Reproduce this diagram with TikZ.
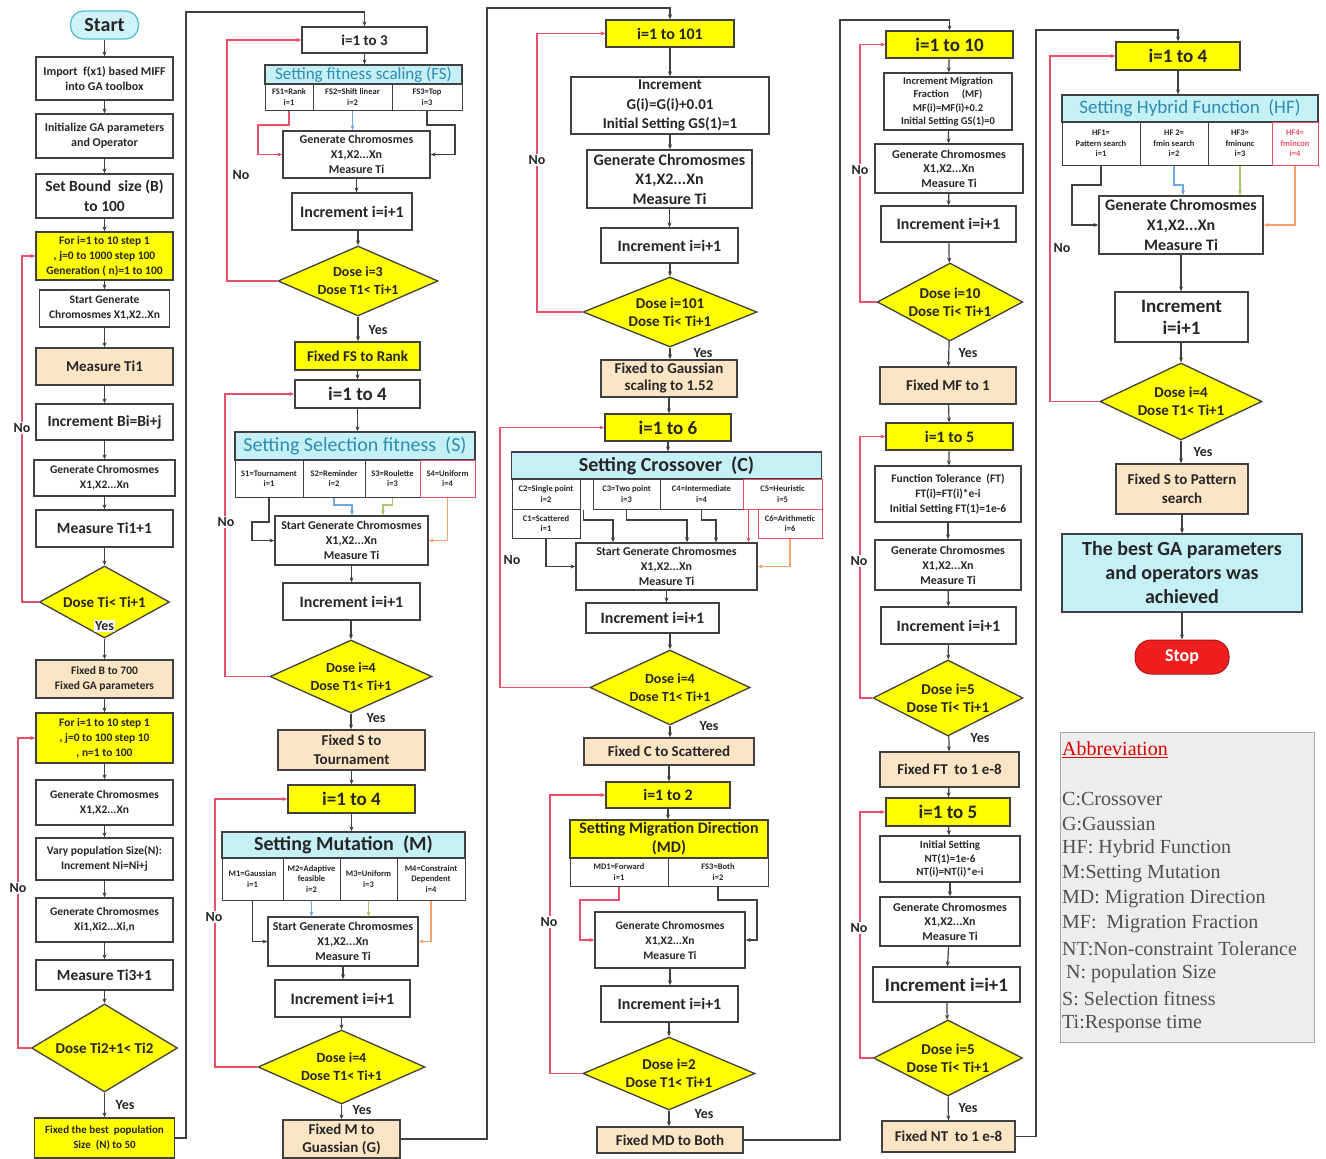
\documentclass[tikz,border=0pt]{standalone}
\usepackage{fontspec}
\setmainfont{Carlito}
\newfontfamily\abbrfont{Liberation Serif}
\usetikzlibrary{shapes.geometric,arrows.meta}
\newcommand\fs[2]{\fontsize{#1}{#2}\selectfont}
\newcommand\vdown[2]{\draw[arr] (#1.south) -- (#1.south |- #2.north);}
\newcommand\vinto[2]{\draw[arr] (#2.north |- #1.south) -- (#2.north);}
\definecolor{edge}{HTML}{404040}
\definecolor{ink}{HTML}{262626}
\definecolor{yel}{HTML}{FFFF00}
\definecolor{tanf}{HTML}{FBE5C4}
\definecolor{cya}{HTML}{C5F0F6}
\definecolor{hdr}{HTML}{2E8DB3}
\definecolor{loopred}{HTML}{E8506A}
\definecolor{lblue}{HTML}{6FA8DC}
\definecolor{lgreen}{HTML}{A8C66C}
\definecolor{lorange}{HTML}{F4A46A}
\definecolor{startc}{HTML}{D0F3FA}
\definecolor{startedge}{HTML}{5BBCD6}
\definecolor{stopc}{HTML}{F01E1E}
\definecolor{abbrbg}{HTML}{EDEDED}
\definecolor{abbrtxt}{HTML}{505050}
\tikzset{
  box/.style={draw=edge, line width=1.3pt, fill=white, align=center, inner sep=1pt, text=ink, font=\bfseries},
  ybox/.style={box, fill=yel},
  tbox/.style={box, fill=tanf},
  cbox/.style={box, fill=cya},
  cell/.style={box, line width=1pt, font=\bfseries\fs{8.5}{10.5}},
  rcell/.style={cell, draw=loopred},
  dia/.style={diamond, draw=edge, line width=1.3pt, fill=yel, align=center, inner sep=0pt, aspect=2.2, text=ink, font=\bfseries},
  sz/.style 2 args={minimum width=#1pt, minimum height=#2pt},
  fnt/.style 2 args={font=\bfseries\fs{#1}{#2}},
  arr/.style={draw=edge, line width=1.2pt, -{Stealth[length=5pt,width=4pt]}},
  retarr/.style={draw=loopred, line width=1.2pt, -{Stealth[length=5pt,width=4pt]}},
  colarr/.style={draw=edge, line width=1.8pt, -{Stealth[length=5pt,width=4pt]}},
  lab/.style={font=\bfseries\fs{14}{16}, text=ink, fill=white, inner sep=1pt},
  startbox/.style={draw=startedge, line width=1.3pt, fill=startc, rounded corners=13pt, minimum width=68pt, minimum height=28pt, font=\bfseries\fs{20}{22}, text=ink, inner sep=1pt},
  stopbox/.style={fill=stopc, draw=stopc!70!black, line width=1pt, rounded corners=16pt, text=white, font=\bfseries\fs{18}{20}, minimum width=94pt, minimum height=34pt},
  abbr/.style={anchor=west, inner sep=0pt, text=abbrtxt, font=\abbrfont\fs{20}{22}},
}
\begin{document}
\begin{tikzpicture}[x=1pt,y=-1pt]
\useasboundingbox (0,0) rectangle (1326,1159);
\fill[white] (0,0) rectangle (1326,1159);

% ---------- column 1: bound size and population size ----------
\node[startbox] (start) at (104.5,25) {Start};
\node[box, sz={137}{43}, fnt={12}{15}] (imp) at (104.5,78.5) {Import \ f(x1) based MIFF\\into GA toolbox};
\node[box, sz={137}{44}, fnt={12}{15}] (ini) at (104.5,136) {Initialize GA parameters\\and Operator};
\node[box, sz={137}{44}, fnt={15.5}{20}] (bnd) at (104.5,196) {Set Bound \ size (B)\\to 100};
\node[ybox, sz={137}{48}, fnt={11.5}{15}] (for1) at (104.5,256) {For i=1 to 10 step 1\\, j=0 to 1000 step 100\\Generation ( n)=1 to 100};
\node[box, sz={130}{37}, fnt={11.5}{15}] (sg1) at (104.5,308.5) {Start Generate\\Chromosmes X1,X2..Xn};
\node[tbox, sz={137}{37}, fnt={15}{18}] (mt1) at (104.5,366.5) {Measure Ti1};
\node[box, sz={137}{36}, fnt={15.5}{18}] (inb) at (104.5,422) {Increment Bi=Bi+j};
\node[box, sz={141}{36}, fnt={11.5}{15}] (gc1) at (104.5,478) {Generate Chromosmes\\X1,X2...Xn};
\node[box, sz={137}{37}, fnt={15.5}{18}] (mt11) at (104.5,528.5) {Measure Ti1+1};
\node[dia, sz={130}{72}, fnt={15}{18}] (d1) at (104.5,602) {Dose Ti< Ti+1};
\node[tbox, sz={137}{38}, fnt={11.5}{15}] (fxB) at (104.5,679) {Fixed B to 700\\Fixed GA parameters};
\node[ybox, sz={137}{50}, fnt={11.5}{15}] (for2) at (104.5,738) {For i=1 to 10 step 1\\, j=0 to 100 step 10\\, n=1 to 100};
\node[box, sz={137}{45}, fnt={11.5}{15}] (gc2) at (104.5,802.5) {Generate Chromosmes\\X1,X2...Xn};
\node[box, sz={137}{42}, fnt={11.5}{15}] (vps) at (104.5,859) {Vary population Size(N):\\Increment Ni=Ni+j};
\node[box, sz={137}{44}, fnt={11.5}{15}] (gc3) at (104.5,920) {Generate Chromosmes\\Xi1,Xi2...Xi,n};
\node[box, sz={137}{30}, fnt={15.5}{18}] (mt31) at (104.5,975) {Measure Ti3+1};
\node[dia, sz={146}{88}, fnt={15}{18}] (d2) at (104.5,1048) {Dose Ti2+1< Ti2};
\node[ybox, sz={140}{40}, fnt={11}{15}] (fxN) at (104.5,1138) {Fixed the best \ population\\Size \ (N) to 50};

\foreach \a/\b in {start/imp, imp/ini, ini/bnd, bnd/for1, for1/sg1, sg1/mt1, mt1/inb, inb/gc1, gc1/mt11, mt11/d1, d1/fxB, fxB/for2, for2/gc2, gc2/vps, vps/gc3, gc3/mt31, mt31/d2, d2/fxN}
  \draw[arr] (\a) -- (\b);

\coordinate (lx1a) at (22,0);
\coordinate (lx1b) at (18,0);
\draw[retarr] (d1.west) -- (d1.west -| lx1a) |- (for1.west);
\draw[retarr] (d2.west) -- (d2.west -| lx1b) |- (for2.west);
\node[lab] (no1) at (22,428) {No};
\node[lab] (yes1) at (104.5,626) {Yes};
\node[lab] (no2) at (18,888) {No};
\node[lab] (yes2) at (125,1105) {Yes};

% ---------- column 2: fitness scaling, selection, mutation ----------
\node[box, sz={125}{26}, fnt={15}{18}] (c2a) at (364.5,40) {i=1 to 3};
\node[cbox, sz={197}{19}, font=\fs{17}{19}, text=hdr] (fsh) at (363.5,74.5) {Setting fitness scaling (FS)};
\node[cell, sz={48}{26}] (fs1) at (289,97) {FS1=Rank\\i=1};
\node[cell, sz={79}{26}] (fs2) at (352.5,97) {FS2=Shift linear\\i=2};
\node[cell, sz={70}{26}] (fs3) at (427,97) {FS3=Top\\i=3};
\node[box, sz={147}{47}, fnt={12}{15}] (gc4) at (356.5,154.5) {Generate Chromosmes\\X1,X2...Xn\\Measure Ti};
\node[box, sz={120}{37}, fnt={16}{18}] (inc2) at (352,211.5) {Increment i=i+1};
\node[dia, sz={160}{70}, fnt={14}{18}] (d3) at (358,281) {Dose i=3\\Dose T1< Ti+1};
\node[ybox, sz={125}{28}, fnt={15}{18}] (fxFS) at (357.5,356) {Fixed FS to Rank};
\node[box, sz={125}{28}, fnt={19}{22}] (c2b) at (357.5,394) {i=1 to 4};
\node[cbox, sz={240}{28}, font=\fs{20}{22}, text=hdr] (ssh) at (355,446) {Setting Selection fitness \ (S)};
\node[cell, sz={68}{37}] (s1) at (269,478.5) {S1=Tournament\\i=1};
\node[cell, sz={62}{37}] (s2) at (334,478.5) {S2=Reminder\\i=2};
\node[cell, sz={55}{37}] (s3) at (392.5,478.5) {S3=Roulette\\i=3};
\node[rcell, sz={55}{37}] (s4) at (447.5,478.5) {S4=Uniform\\i=4};
\node[box, sz={153}{49}, fnt={12}{15}] (sg2) at (351.5,540.5) {Start Generate Chromosmes\\X1,X2...Xn\\Measure Ti};
\node[box, sz={137}{37}, fnt={16}{18}] (inc3) at (351.5,601.5) {Increment i=i+1};
\node[dia, sz={162}{73}, fnt={14}{18}] (d4) at (351,676.5) {Dose i=4\\Dose T1< Ti+1};
\node[tbox, sz={147}{40}, fnt={15}{19}] (fxS) at (351.5,750) {Fixed S to\\Tournament};
\node[ybox, sz={127}{28}, fnt={19}{22}] (c2c) at (351.5,799) {i=1 to 4};
\node[cbox, sz={243}{26}, fnt={20}{22}] (mh) at (343.5,845) {Setting Mutation \ (M)};
\node[cell, sz={61}{42}] (m1) at (252.5,879) {M1=Gaussian\\i=1};
\node[cell, sz={57}{42}] (m2) at (311.5,879) {M2=Adaptive\\feasible\\i=2};
\node[cell, sz={57}{42}] (m3) at (368.5,879) {M3=Uniform\\i=3};
\node[cell, sz={68}{42}] (m4) at (431,879) {M4=Constraint\\Dependent\\i=4};
\node[box, sz={150}{49}, fnt={12}{15}] (sg3) at (343,941.5) {Start Generate Chromosmes\\X1,X2...Xn\\Measure Ti};
\node[box, sz={135}{37}, fnt={16}{18}] (inc4) at (342.5,998.5) {Increment i=i+1};
\node[dia, sz={167}{74}, fnt={14}{18}] (d5) at (341.5,1067) {Dose i=4\\Dose T1< Ti+1};
\node[tbox, sz={117}{38}, fnt={15}{18}] (fxM) at (341.5,1139) {Fixed M to\\Guassian (G)};

\coordinate (j1) at (186,12);
\draw[colarr] (fxN.east) -| (j1) -| (c2a.north);

\vdown{c2a}{fsh}
\vdown{gc4}{inc2}
\vinto{inc2}{d3}
\vdown{d3}{fxFS}
\vdown{fxFS}{c2b}
\vdown{c2b}{ssh}
\vdown{sg2}{inc3}
\vinto{inc3}{d4}
\vdown{d4}{fxS}
\vdown{fxS}{c2c}
\vdown{c2c}{mh}
\vdown{sg3}{inc4}
\vinto{inc4}{d5}
\vdown{d5}{fxM}

\coordinate (lx2a) at (227,0);
\coordinate (lx2b) at (225,0);
\coordinate (lx2c) at (215,0);
\draw[retarr] (d3.west) -- (d3.west -| lx2a) |- (c2a.west);
\draw[retarr] (d4.west) -- (d4.west -| lx2b) |- (c2b.west);
\draw[retarr] (d5.west) -- (d5.west -| lx2c) |- (c2c.west);

\coordinate (k1) at (258,125);
\draw[retarr] (fs1.south) |- (k1) |- (gc4.west);
\draw[arr, draw=lblue] (fs2.south) -- (fs2.south |- gc4.north);
\coordinate (k2) at (455,125);
\draw[arr] (fs3.south) |- (k2) |- (gc4.east);

\coordinate (k3) at (252,522);
\draw[arr] (s1.south) |- (k3) |- (sg2.west);
\coordinate (k4) at (352,505);
\draw[arr, draw=lblue] (s2.south) |- (k4) -- (k4 |- sg2.north);
\coordinate (k5) at (383,505);
\draw[arr, draw=lgreen] (s3.south) |- (k5) -- (k5 |- sg2.north);
\draw[arr, draw=lorange] (s4.south) |- (sg2.east);

\draw[arr] (m1.south) |- (sg3.west);
\draw[arr, draw=lblue] (m2.south) -- (m2.south |- sg3.north);
\draw[arr, draw=lgreen] (m3.south) -- (m3.south |- sg3.north);
\draw[arr, draw=lorange] (m4.south) |- (sg3.east);

\node[lab] (no3) at (241,175) {No};
\node[lab] (yes3) at (378,330) {Yes};
\node[lab] (no4) at (226,522) {No};
\node[lab] (yes4) at (376,718) {Yes};
\node[lab] (no5) at (214,917) {No};
\node[lab] (yes5) at (362,1110) {Yes};

% ---------- column 3: Gaussian scaling, crossover, migration direction ----------
\node[ybox, sz={128}{27}, fnt={16}{18}] (c3a) at (670,33.5) {i=1 to 101};
\node[box, sz={198}{57}, fnt={15}{19.5}] (incG) at (670,105.5) {Increment\\G(i)=G(i)+0.01\\Initial Setting GS(1)=1};
\node[box, sz={165}{58}, fnt={16}{19.5}] (gc5) at (669.5,179) {Generate Chromosmes\\X1,X2...Xn\\Measure Ti};
\node[box, sz={137}{35}, fnt={16}{18}] (inc5) at (669.5,245.5) {Increment i=i+1};
\node[dia, sz={174}{70}, fnt={15}{18}] (d6) at (670,312) {Dose i=101\\Dose Ti< Ti+1};
\node[tbox, sz={136}{37}, fnt={15}{17}] (fxG) at (669,378.5) {Fixed to Gaussian\\scaling to 1.52};
\node[ybox, sz={126}{27}, fnt={19}{22}] (c3b) at (668,427.5) {i=1 to 6};
\node[cbox, sz={310}{27}, fnt={20}{22}] (ch) at (666.5,465.5) {Setting Crossover \ (C)};
\node[cell, sz={68}{30}] (x2) at (546,494) {C2=Single point\\i=2};
\node[cell, sz={67}{30}] (x3) at (626.5,494) {C3=Two point\\i=3};
\node[cell, sz={83}{30}] (x4) at (701.5,494) {C4=Intermediate\\i=4};
\node[rcell, sz={79}{30}] (x5) at (782.5,494) {C5=Heuristic\\i=5};
\node[cell, sz={68}{29}] (x1) at (546,523.5) {C1=Scattered\\i=1};
\node[rcell, sz={64}{29}] (x6) at (790,523.5) {C6=Arithmetic\\i=6};
\node[box, sz={181}{47}, fnt={12}{15}] (sg4) at (666.5,566.5) {Start Generate Chromosmes\\X1,X2...Xn\\Measure Ti};
\node[box, sz={133}{30}, fnt={16}{18}] (inc6) at (652.5,618) {Increment i=i+1};
\node[dia, sz={160}{75}, fnt={14}{18}] (d7) at (670,687.5) {Dose i=4\\Dose T1< Ti+1};
\node[tbox, sz={170}{27}, fnt={15}{18}] (fxC) at (669,751.5) {Fixed C to Scattered};
\node[ybox, sz={124}{26}, fnt={16}{18}] (c3c) at (668,795) {i=1 to 2};
\node[ybox, sz={198}{38}, fnt={16}{19}] (mdh) at (669,839) {Setting Migration Direction\\(MD)};
\node[cell, sz={98}{28}] (md1) at (619,872) {MD1=Forward\\i=1};
\node[cell, sz={100}{28}] (md2) at (718,872) {FS3=Both\\i=2};
\node[box, sz={150}{56}, fnt={11.5}{15}] (gc6) at (670,940) {Generate Chromosmes\\X1,X2...Xn\\Measure Ti};
\node[box, sz={137}{36}, fnt={16}{18}] (inc7) at (669.5,1004) {Increment i=i+1};
\node[dia, sz={172}{73}, fnt={15}{18}] (d8) at (669,1073.5) {Dose i=2\\Dose T1< Ti+1};
\node[tbox, sz={146}{26}, fnt={15}{18}] (fxMD) at (670,1140) {Fixed MD to Both};

\coordinate (j2) at (487,8);
\draw[colarr] (fxM.east) -| (j2) -| (c3a.north);

\vdown{c3a}{incG}
\vdown{incG}{gc5}
\vdown{gc5}{inc5}
\vinto{inc5}{d6}
\vdown{d6}{fxG}
\vdown{fxG}{c3b}
\vdown{c3b}{ch}
\vdown{sg4}{inc6}
\vinto{inc6}{d7}
\vdown{d7}{fxC}
\vdown{fxC}{c3c}
\vdown{c3c}{mdh}
\vdown{gc6}{inc7}
\vinto{inc7}{d8}
\vdown{d8}{fxMD}

\coordinate (lx3a) at (537,0);
\coordinate (lx3b) at (500,0);
\coordinate (lx3c) at (550,0);
\draw[retarr] (d6.west) -- (d6.west -| lx3a) |- (c3a.west);
\draw[retarr] (d7.west) -- (d7.west -| lx3b) |- (c3b.west);
\draw[retarr] (d8.west) -- (d8.west -| lx3c) |- (c3c.west);

\draw[arr] (x1.south) |- (sg4.west);
\coordinate (q2) at (613,520);
\draw[arr] ([xshift=3pt]x2.south east) |- (q2) -- (q2 |- sg4.north);
\coordinate (q3) at (687,520);
\draw[arr] (x3.south) |- (q3) -- (q3 |- sg4.north);
\coordinate (q4) at (716,520);
\draw[arr] (x4.south) |- (q4) -- (q4 |- sg4.north);
\draw[retarr] ([xshift=6pt]x5.south west) -- ([xshift=6pt]x5.south west |- sg4.north);
\draw[arr, draw=lorange] (x6.south) |- (sg4.east);

\coordinate (q6) at (580,900);
\draw[retarr] (md1.south) |- (q6) |- (gc6.west);
\coordinate (q7) at (757,900);
\draw[arr] (md2.south) |- (q7) |- (gc6.east);

\node[lab] (no6) at (537,160) {No};
\node[lab] (yes6) at (703,353) {Yes};
\node[lab] (no7) at (512,560) {No};
\node[lab] (yes7) at (709,726) {Yes};
\node[lab] (no8) at (549,922) {No};
\node[lab] (yes8) at (704,1114) {Yes};

% ---------- column 4: migration fraction, function and constraint tolerance ----------
\node[ybox, sz={127}{27}, fnt={19}{22}] (c4a) at (949.5,44.5) {i=1 to 10};
\node[box, sz={128}{57}, fnt={10.5}{13.5}] (imf) at (948,101.5) {Increment Migration\\Fraction \quad (MF)\\MF(i)=MF(i)+0.2\\Initial Setting GS(1)=0};
\node[box, sz={148}{49}, fnt={12}{14.5}] (gc7) at (949,168.5) {Generate Chromosmes\\X1,X2...Xn\\Measure Ti};
\node[box, sz={135}{36}, fnt={16}{18}] (inc8) at (948.5,224) {Increment i=i+1};
\node[dia, sz={144}{78}, fnt={15}{18}] (d9) at (950,302) {Dose i=10\\Dose Ti< Ti+1};
\node[tbox, sz={136}{37}, fnt={15}{18}] (fxMF) at (948,385.5) {Fixed MF to 1};
\node[ybox, sz={127}{27}, fnt={16}{18}] (c4b) at (949.5,436.5) {i=1 to 5};
\node[box, sz={146}{56}, fnt={11.5}{15}] (ftl) at (948,494) {Function Tolerance \ (FT)\\FT(i)=FT(i)*e-i\\Initial Setting FT(1)=1e-6};
\node[box, sz={146}{50}, fnt={12}{15}] (gc8) at (948,565) {Generate Chromosmes\\X1,X2...Xn\\Measure Ti};
\node[box, sz={135}{37}, fnt={16}{18}] (inc9) at (948.5,625.5) {Increment i=i+1};
\node[dia, sz={150}{76}, fnt={15}{18}] (d10) at (948,698) {Dose i=5\\Dose Ti< Ti+1};
\node[tbox, sz={139}{35}, fnt={15}{18}] (fxFT) at (949.5,769.5) {Fixed FT \ to 1 e-8};
\node[ybox, sz={124}{28}, fnt={19}{22}] (c4c) at (948,812) {i=1 to 5};
\node[box, sz={140}{46}, fnt={11}{13.5}] (ntl) at (950,859) {Initial Setting\\NT(1)=1e-6\\NT(i)=NT(i)*e-i};
\node[box, sz={140}{49}, fnt={12}{14.5}] (gc9) at (950,921.5) {Generate Chromosmes\\X1,X2...Xn\\Measure Ti};
\node[box, sz={147}{35}, fnt={19}{20}] (inc10) at (946.5,984.5) {Increment i=i+1};
\node[dia, sz={149}{76}, fnt={15}{18}] (d11) at (948,1058) {Dose i=5\\Dose Ti< Ti+1};
\node[tbox, sz={133}{31}, fnt={15}{18}] (fxNT) at (948.5,1136.5) {Fixed NT \ to 1 e-8};

\coordinate (j3) at (840,20);
\draw[colarr] (fxMD.east) -| (j3) -| (c4a.north);

\foreach \a/\b in {c4a/imf, imf/gc7, gc7/inc8, inc8/d9, d9/fxMF, fxMF/c4b, c4b/ftl, ftl/gc8, gc8/inc9, inc9/d10, d10/fxFT, fxFT/c4c, c4c/ntl, ntl/gc9, gc9/inc10, inc10/d11, d11/fxNT}
  \draw[arr] (\a) -- (\b);

\coordinate (lx4) at (860,0);
\draw[retarr] (d9.west) -- (d9.west -| lx4) |- (c4a.west);
\draw[retarr] (d10.west) -- (d10.west -| lx4) |- (c4b.west);
\draw[retarr] (d11.west) -- (d11.west -| lx4) |- (c4c.west);

\node[lab] (no9) at (860,170) {No};
\node[lab] (yes9) at (968,353) {Yes};
\node[lab] (no10) at (859,561) {No};
\node[lab] (yes10) at (980,738) {Yes};
\node[lab] (no11) at (859,928) {No};
\node[lab] (yes11) at (968,1108) {Yes};

% ---------- column 5: hybrid function and result ----------
\node[ybox, sz={124}{28}, fnt={19}{22}] (c5a) at (1178,56) {i=1 to 4};
\node[cbox, sz={256}{27}, font=\fs{19}{22}, text=hdr] (hfh) at (1190,108.5) {Setting Hybrid Function \ (HF)};
\node[cell, sz={78}{43}] (hf1) at (1101,143.5) {HF1=\\Pattern search\\i=1};
\node[cell, sz={68}{43}] (hf2) at (1174,143.5) {HF 2=\\fmin search\\i=2};
\node[cell, sz={64}{43}] (hf3) at (1240,143.5) {HF3=\\fminunc\\i=3};
\node[rcell, sz={46}{43}, text=loopred] (hf4) at (1295,143.5) {HF4=\\fmincon\\i=4};
\node[box, sz={164}{58}, fnt={16}{20}] (gc10) at (1181,225) {Generate Chromosmes\\X1,X2...Xn\\Measure Ti};
\node[box, sz={133}{50}, fnt={19}{22}] (inc11) at (1181.5,317) {Increment\\i=i+1};
\node[dia, sz={162}{77}, fnt={15}{18}] (d12) at (1181,401.5) {Dose i=4\\Dose T1< Ti+1};
\node[tbox, sz={132}{50}, fnt={15}{19}] (fx5) at (1182,489) {Fixed S to Pattern\\search};
\node[cbox, sz={240}{78}, fnt={20}{24}] (best) at (1182,573) {The best GA parameters\\and operators was\\achieved};
\node[stopbox] (stop) at (1182,657) {Stop};

\coordinate (j4) at (1036,30);
\draw[colarr] (fxNT.east) -| (j4) -| (c5a.north);

\vdown{c5a}{hfh}
\vdown{gc10}{inc11}
\vinto{inc11}{d12}
\vdown{d12}{fx5}
\vdown{fx5}{best}
\vdown{best}{stop}

\coordinate (r1) at (1072,185);
\draw[arr] (hf1.south) |- (r1) |- (gc10.west);
\coordinate (r2) at (1183,185);
\draw[arr, draw=lblue] (hf2.south) |- (r2) -- (r2 |- gc10.north);
\draw[arr, draw=lgreen] (hf3.south) -- (hf3.south |- gc10.north);
\draw[arr, draw=lorange] (hf4.south) |- (gc10.east);

\coordinate (lx5) at (1050,0);
\draw[retarr] (d12.west) -- (d12.west -| lx5) |- (c5a.west);
\node[lab] (no12) at (1062,248) {No};
\node[lab] (yes12) at (1203,452) {Yes};

% ---------- abbreviations ----------
\node[draw=gray!70, line width=1pt, fill=abbrbg, minimum width=254pt, minimum height=310pt, anchor=north west, inner sep=0pt] (abox) at (1060,732) {};
\node[abbr, text=red!85!black] (ab0) at (1062,750) {\underline{Abbreviation}};
\node[abbr] (ab1) at (1062,799) {C:Crossover};
\node[abbr] (ab2) at (1062,824) {G:Gaussian};
\node[abbr] (ab3) at (1062,849) {HF: Hybrid Function};
\node[abbr] (ab4) at (1062,874) {M:Setting Mutation};
\node[abbr] (ab5) at (1062,899) {MD: Migration Direction};
\node[abbr] (ab6) at (1062,924) {MF: \ Migration Fraction};
\node[abbr] (ab7) at (1062,949) {NT:Non-constraint Tolerance};
\node[abbr] (ab8) at (1066,974) {N: population Size};
\node[abbr] (ab9) at (1062,999) {S: Selection fitness};
\node[abbr] (ab10) at (1062,1024) {Ti:Response time};
\end{tikzpicture}
\end{document}
